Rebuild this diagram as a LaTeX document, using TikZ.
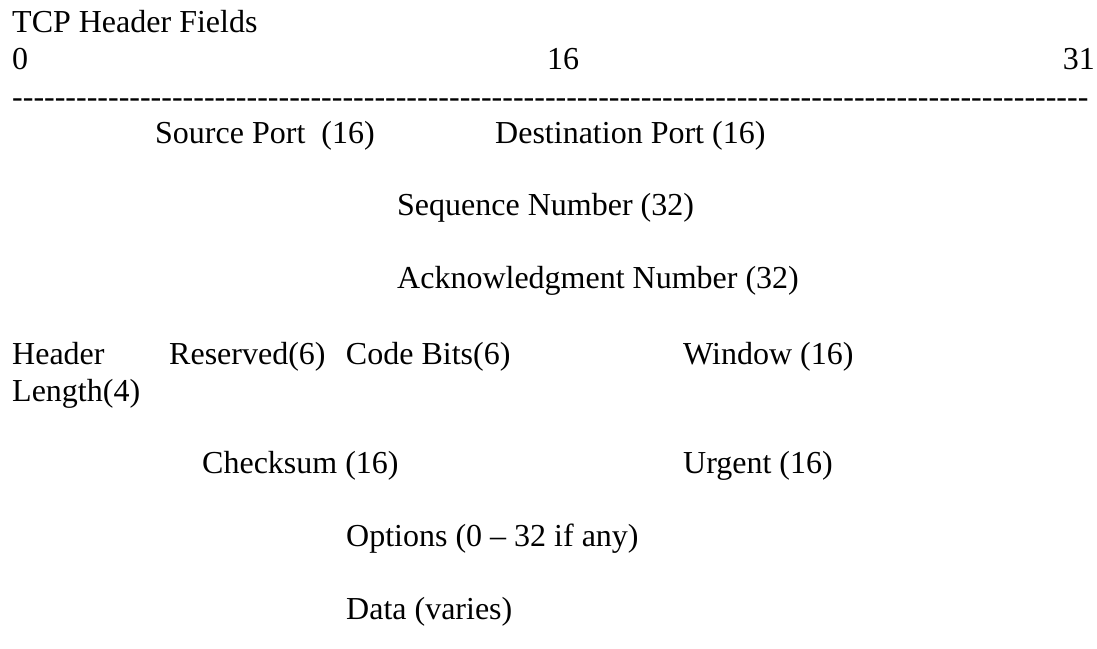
\documentclass[tikz,border=0pt]{standalone}
\usepackage{fontspec}
\setmainfont{Liberation Serif}
\usetikzlibrary{positioning}
\tikzset{
  txt/.style={font=\fontsize{32}{37}\selectfont, inner sep=0pt, anchor=base west},
  bitno/.style={txt},
}

\begin{document}
\begin{tikzpicture}[x=1pt,y=1pt]
\useasboundingbox (0,0) rectangle (1097,-648);

% ---- title and bit numbers ----
\node[txt] (title) at (12,-32) {TCP Header Fields};
\node[bitno] (b0)  at (12,-69) {0};
\node[bitno] (b16) at (547,-69) {16};
\node[bitno, anchor=base east] (b31) at (1095,-69) {31};
\node[txt] (rule) at (12,-107) {\foreach \i in {1,...,101}{-}};

% ---- fields ----
\node[txt] (src) at (155,-143) {Source Port\ \ (16)};
\node[txt] (dst) at (495,-143) {Destination Port (16)};
\node[txt] (seq) at (397,-215) {Sequence Number (32)};
\node[txt, below=73pt of seq.base west, anchor=base west] (ack) {Acknowledgment Number (32)};
\node[txt] (hlen) at (12,-364) {Header};
\node[txt, below=37pt of hlen.base west, anchor=base west] (hlen2) {Length(4)};
\node[txt] (res)  at (169,-364) {Reserved(6)};
\node[txt, right=20pt of res.base east, anchor=base west] (code) {Code Bits(6)};
\node[txt] (win)  at (683,-364) {Window (16)};
\node[txt] (chk)  at (202,-473) {Checksum (16)};
\node[txt] (urg)  at (683,-473) {Urgent (16)};
\node[txt] (opt)  at (346,-546) {Options (0 – 32 if any)};
\node[txt, below=73pt of opt.base west, anchor=base west] (data) {Data (varies)};

\end{tikzpicture}
\end{document}
